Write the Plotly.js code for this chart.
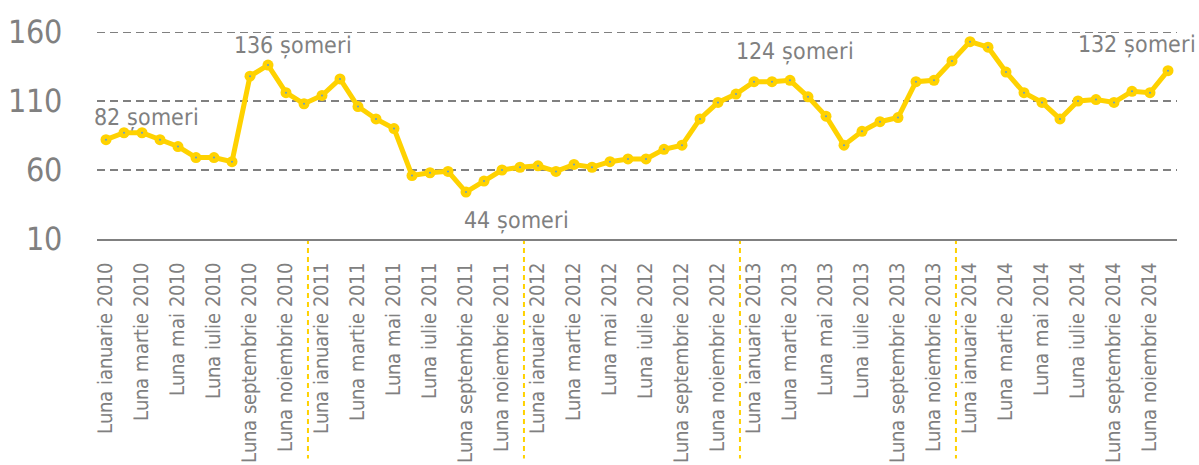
<!DOCTYPE html>
<html>
<head>
<meta charset="utf-8">
<script src="https://cdn.plot.ly/plotly-3.0.1.min.js"></script>
<style>
@font-face { font-family: 'CondA'; src: local('Liberation Sans Narrow'), local('LiberationSansNarrow'), local('LiberationSansNarrow-Regular'), local('Liberation Sans Narrow Regular'); }
@font-face { font-family: 'CondB'; src: local('DejaVu Sans Condensed'), local('DejaVuSansCondensed'); }
html,body{margin:0;padding:0;background:#fff;}#chart{width:1199px;height:465px;}
</style>
</head>
<body>
<div id="chart"></div>
<script>
const years = [2010, 2011, 2012, 2013, 2014];
const monthNames = ["ianuarie","februarie","martie","aprilie","mai","iunie","iulie","august","septembrie","octombrie","noiembrie","decembrie"];
const categories = [];
years.forEach(y => monthNames.forEach(m => categories.push("Luna " + m + " " + y)));

const values2010 = [82, 87, 87, 82, 77, 69, 69, 66, 128, 136, 116, 108];
const values2011 = [114, 126, 106, 97, 90, 56, 58, 59, 44, 52, 60, 62];
const values2012 = [63, 59, 64, 62, 66, 68, 68, 75, 78, 97, 109, 115];
const values2013 = [124, 124, 125, 113, 99, 78, 88, 95, 98, 124, 125, 139];
const values2014 = [153, 149, 131, 116, 109, 97, 110, 111, 109, 117, 116, 132];
const values = [].concat(values2010, values2011, values2012, values2013, values2014);

const tickVals = categories.filter((c, i) => i % 2 === 0);
const yTicks = [10, 60, 110, 160];
const gridVals = [60, 110, 160];

const labelTexts = ["82 șomeri", "136 șomeri", "44 șomeri", "124 șomeri", "132 șomeri"];
const labelIdx = [0, 9, 20, 36, 59];

const FONT = "CondA, CondB, 'Liberation Sans Narrow', 'DejaVu Sans Condensed', 'Roboto', sans-serif";
const GRAY = "#808080";
const GOLD = "#FFD200";

const traces = [
  {x: categories, y: values, type: "scatter", mode: "lines+markers",
   line: {color: GOLD, width: 5}, marker: {color: GOLD, size: 11}, cliponaxis: false, hoverinfo: "x+y"},
  {x: categories, y: values, type: "scatter", mode: "markers",
   marker: {color: "#5b9bd5", size: 2}, cliponaxis: false, hoverinfo: "skip"}
];

const annoOffsets = [[40, -22], [25, -20], [50, 28], [41, -30], [-31, -26]];
const annotations = labelIdx.map((idx, k) => ({
  x: categories[idx], y: values[idx], xref: "x", yref: "y",
  text: labelTexts[k], showarrow: false,
  xshift: annoOffsets[k][0], yshift: -annoOffsets[k][1],
  font: {family: FONT, size: 23, color: GRAY}
}));

const yearBoundaries = [11.22, 23.22, 35.22, 47.22];
const shapes = yearBoundaries.map(b => ({
  type: "line", xref: "x", yref: "paper", x0: b, x1: b, y0: 0, y1: -1.06,
  line: {color: GOLD, width: 2, dash: "5px,4px"}, layer: "below"
})).concat(gridVals.map(v => ({
  type: "line", xref: "paper", yref: "y", x0: 0, x1: 1, y0: v, y1: v,
  line: {color: GRAY, width: 2, dash: "8px,5px"}, layer: "below"
})));

const layout = {
  width: 1199, height: 465,
  margin: {l: 97, r: 22, t: 32, b: 226},
  paper_bgcolor: "#fff", plot_bgcolor: "#fff",
  showlegend: false,
  font: {family: FONT, color: GRAY},
  xaxis: {
    type: "category", range: [-0.5, 59.5],
    tickmode: "array", tickvals: tickVals, ticktext: tickVals,
    tickangle: -90, tickfont: {family: FONT, size: 19.5, color: GRAY},
    showgrid: false, showline: true, linecolor: GRAY, linewidth: 2,
    ticks: "", ticklabelstandoff: 14, fixedrange: true
  },
  yaxis: {
    range: [10, 160], tickmode: "array", tickvals: yTicks,
    tickfont: {family: FONT, size: 32, color: GRAY},
    showgrid: false,
    zeroline: false, showline: false, ticks: "", ticklabelstandoff: 34, fixedrange: true
  },
  annotations: annotations,
  shapes: shapes
};

Plotly.newPlot("chart", traces, layout, {displayModeBar: false, staticPlot: true});
</script>
</body>
</html>
